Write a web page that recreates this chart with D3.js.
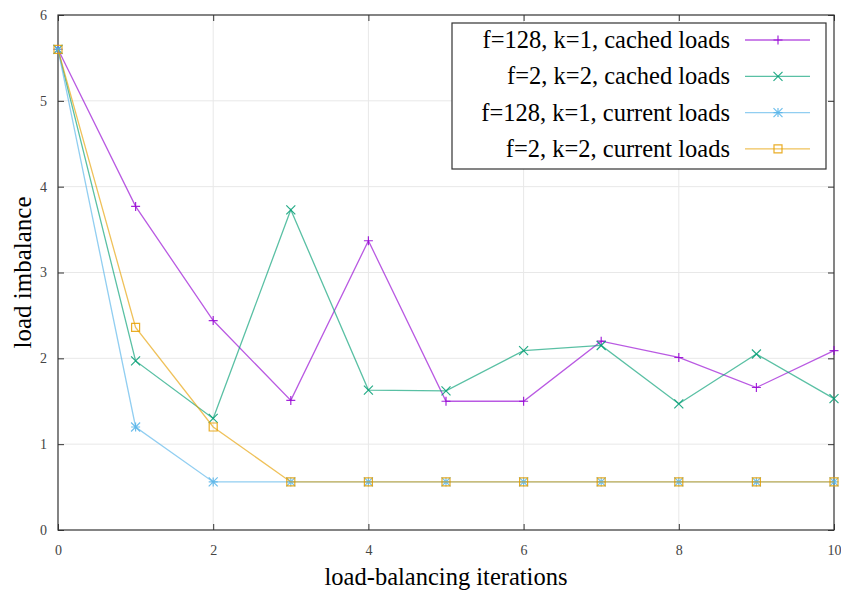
<!DOCTYPE html>
<html>
<head>
<meta charset="utf-8">
<script src="https://cdn.jsdelivr.net/npm/d3@7"></script>
<style>
body { margin: 0; background: #fff; }
text { font-family: "Liberation Serif", "DejaVu Serif", serif; }
</style>
</head>
<body>
<script>
var width = 841;
var height = 592;

var iterations = [0, 1, 2, 3, 4, 5, 6, 7, 8, 9, 10];
var cachedF128 = [5.6, 3.77, 2.44, 1.51, 3.37, 1.5, 1.5, 2.2, 2.01, 1.66, 2.09];
var cachedF2 = [5.6, 1.97, 1.3, 3.73, 1.63, 1.62, 2.09, 2.15, 1.47, 2.05, 1.53];
var currentF128 = [5.6, 1.2, 0.56, 0.56, 0.56, 0.56, 0.56, 0.56, 0.56, 0.56, 0.56];
var currentF2 = [5.6, 2.36, 1.2, 0.56, 0.56, 0.56, 0.56, 0.56, 0.56, 0.56, 0.56];

var seriesNames = ['f=128, k=1, cached loads', 'f=2, k=2, cached loads', 'f=128, k=1, current loads', 'f=2, k=2, current loads'];
var seriesColors = ['#9400d3', '#009e73', '#56b4e9', '#e69f00'];
var seriesMarkers = ['plus', 'cross', 'star', 'square'];
var xTicks = [0, 2, 4, 6, 8, 10];
var yTicks = [0, 1, 2, 3, 4, 5, 6];

var allSeries = [cachedF128, cachedF2, currentF128, currentF2].map(function(vals, i) {
	return {name: seriesNames[i], color: seriesColors[i], marker: seriesMarkers[i],
		points: vals.map(function(v, j) { return {x: iterations[j], y: v}; })};
});

var plotL = 58, plotR = 834, plotT = 15, plotB = 530;

var x = d3.scaleLinear().domain([0, 10]).range([plotL, plotR]);
var y = d3.scaleLinear().domain([0, 6]).range([plotB, plotT]);

var svg = d3.select('body').append('svg')
	.attr('width', width)
	.attr('height', height);

// grid
svg.append('g').selectAll('line').data(xTicks.slice(1, -1))
	.enter().append('line')
		.attr('x1', function(d) { return x(d); })
		.attr('x2', function(d) { return x(d); })
		.attr('y1', plotT).attr('y2', plotB)
		.attr('stroke', '#e8e8e8').attr('stroke-width', 1);
svg.append('g').selectAll('line').data(yTicks.slice(1, -1))
	.enter().append('line')
		.attr('y1', function(d) { return y(d); })
		.attr('y2', function(d) { return y(d); })
		.attr('x1', plotL).attr('x2', plotR)
		.attr('stroke', '#e8e8e8').attr('stroke-width', 1);

// axes with inward ticks, mirrored
var axisStyle = function(g) {
	g.select('.domain').remove();
	g.selectAll('.tick line').attr('stroke', '#333');
	g.selectAll('.tick text').attr('fill', '#444').style('font-size', '14px')
		.style('font-family', '"Liberation Serif", serif');
};
svg.append('g').attr('transform', 'translate(0,' + plotB + ')')
	.call(d3.axisBottom(x).tickValues(xTicks).tickSize(-6).tickPadding(15).tickFormat(d3.format('d')))
	.call(axisStyle);
svg.append('g').attr('transform', 'translate(' + plotL + ',0)')
	.call(d3.axisLeft(y).tickValues(yTicks).tickSize(-6).tickPadding(11).tickFormat(d3.format('d')))
	.call(axisStyle);
svg.append('g').attr('transform', 'translate(' + plotR + ',0)')
	.call(d3.axisRight(y).tickValues(yTicks).tickSize(-6).tickFormat(''))
	.call(axisStyle);
svg.append('g').attr('transform', 'translate(0,' + plotT + ')')
	.call(d3.axisTop(x).tickValues(xTicks).tickSize(-6).tickFormat(''))
	.call(axisStyle);

svg.append('rect')
	.attr('x', plotL).attr('y', plotT)
	.attr('width', plotR - plotL).attr('height', plotB - plotT)
	.attr('fill', 'none').attr('stroke', '#333').attr('stroke-width', 1.2);

// axis titles
svg.append('text')
	.attr('x', (plotL + plotR) / 2).attr('y', 585)
	.attr('text-anchor', 'middle')
	.style('font-size', '24.5px')
	.text('load-balancing iterations');
svg.append('text')
	.attr('transform', 'translate(31,' + ((plotT + plotB) / 2) + ') rotate(-90)')
	.attr('text-anchor', 'middle')
	.style('font-size', '25px')
	.text('load imbalance');

function markerPath(type, s) {
	if (type === 'plus') return 'M' + (-s) + ',0H' + s + 'M0,' + (-s) + 'V' + s;
	if (type === 'cross') return 'M' + (-s) + ',' + (-s) + 'L' + s + ',' + s + 'M' + (-s) + ',' + s + 'L' + s + ',' + (-s);
	if (type === 'star') return 'M' + (-s) + ',0H' + s + 'M0,' + (-s) + 'V' + s +
		'M' + (-s) + ',' + (-s) + 'L' + s + ',' + s + 'M' + (-s) + ',' + s + 'L' + s + ',' + (-s);
	return 'M' + (-s) + ',' + (-s) + 'H' + s + 'V' + s + 'H' + (-s) + 'Z';
}

var line = d3.line()
	.x(function(d) { return x(d.x); })
	.y(function(d) { return y(d.y); });

var groups = svg.selectAll('g.series').data(allSeries)
	.enter().append('g').attr('class', 'series');

groups.append('path')
	.attr('d', function(d) { return line(d.points); })
	.attr('fill', 'none')
	.attr('stroke', function(d) { return d.color; })
	.attr('stroke-opacity', 0.65)
	.attr('stroke-width', 1.3);

groups.each(function(s) {
	d3.select(this).selectAll('path.mk').data(s.points)
		.enter().append('path')
			.attr('class', 'mk')
			.attr('transform', function(d) { return 'translate(' + x(d.x) + ',' + y(d.y) + ')'; })
			.attr('d', markerPath(s.marker, s.marker === 'square' ? 4 : 4.5))
			.attr('fill', 'none')
			.attr('stroke', s.color)
			.attr('stroke-opacity', 0.85)
			.attr('stroke-width', 1.2);
});

// legend
var lgX = 452, lgY = 23, lgW = 374, lgH = 146;
var legend = svg.append('g');
legend.append('rect')
	.attr('x', lgX).attr('y', lgY).attr('width', lgW).attr('height', lgH)
	.attr('fill', '#fff').attr('stroke', '#333').attr('stroke-width', 1.2);
var rows = legend.selectAll('g.row').data(allSeries)
	.enter().append('g').attr('class', 'row')
	.attr('transform', function(d, i) { return 'translate(0,' + (40 + i * 36.3) + ')'; });
rows.append('text')
	.attr('x', 730).attr('y', 8)
	.attr('text-anchor', 'end')
	.style('font-size', '24.5px')
	.text(function(d) { return d.name; });
rows.append('line')
	.attr('x1', 745).attr('x2', 810)
	.attr('stroke', function(d) { return d.color; })
	.attr('stroke-opacity', 0.65)
	.attr('stroke-width', 1.3);
rows.append('path')
	.attr('transform', 'translate(778,0)')
	.attr('d', function(d) { return markerPath(d.marker, d.marker === 'square' ? 4 : 4.5); })
	.attr('fill', 'none')
	.attr('stroke', function(d) { return d.color; })
	.attr('stroke-opacity', 0.85)
	.attr('stroke-width', 1.2);
</script>
</body>
</html>
